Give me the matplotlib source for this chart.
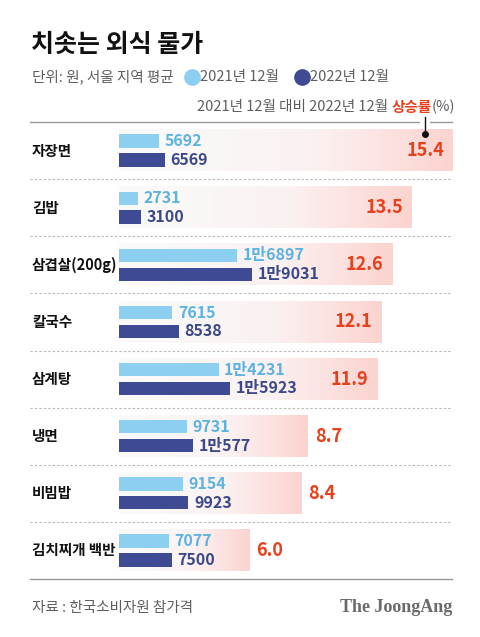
import numpy as np
import matplotlib
matplotlib.use('Agg')
from matplotlib import pyplot as plt
from matplotlib.lines import Line2D
from matplotlib.colors import LinearSegmentedColormap

plt.rcParams['font.family'] = ['Noto Sans CJK KR', 'DejaVu Sans']

# data
items = ['자장면', '김밥', '삼겹살(200g)', '칼국수', '삼계탕', '냉면', '비빔밥', '김치찌개 백반']
price_2021 = [5692, 2731, 16897, 7615, 14231, 9731, 9154, 7077]
price_2022 = [6569, 3100, 19031, 8538, 15923, 10577, 9923, 7500]
rate = [15.4, 13.5, 12.6, 12.1, 11.9, 8.7, 8.4, 6.0]

LIGHT = '#8dcff1'
DARK = '#3e4b94'
LIGHT_TXT = '#5cb3e0'
DARK_TXT = '#3b4889'
RED = '#e8401c'
GRAY = '#5e5e5e'

W, H = 480, 637
def fx(px):
    return px / W
def fy(py):
    return 1 - py / H

def won(v):
    if v >= 10000:
        return '%d만%d' % (v // 10000, v % 10000)
    return str(v)

fig = plt.figure(figsize=(4.8, 6.37), dpi=100)
fig.patch.set_facecolor('white')

# header texts
fig.text(fx(31), fy(45), '치솟는 외식 물가', fontsize=18, fontweight='bold',
         color='#111111', va='center', ha='left')
fig.text(fx(32), fy(77), '단위: 원, 서울 지역 평균', fontsize=10.5, color=GRAY,
         va='center', ha='left')
fig.add_artist(Line2D([fx(192)], [fy(77)], marker='o', markersize=11,
                      color=LIGHT, linestyle='none', transform=fig.transFigure))
fig.text(fx(200), fy(77), '2021년 12월', fontsize=10.5, color=GRAY, va='center', ha='left')
fig.add_artist(Line2D([fx(302)], [fy(77)], marker='o', markersize=11,
                      color=DARK, linestyle='none', transform=fig.transFigure))
fig.text(fx(310), fy(77), '2022년 12월', fontsize=10.5, color=GRAY, va='center', ha='left')

# right header with red part, laid out right to left
renderer = fig.canvas.get_renderer()
x_right = fx(455)
parts = [('(%)', GRAY, 'normal'), ('상승률', RED, 'bold'),
         ('2021년 12월 대비 2022년 12월 ', GRAY, 'normal')]
for s, c, w in parts:
    t = fig.text(x_right, fy(107), s, fontsize=10.5, color=c, fontweight=w,
                 va='center', ha='right')
    bb = t.get_window_extent(renderer)
    x_right -= bb.width / fig.bbox.width

# main axes: x in won, twin x in percent
ax = fig.add_axes([fx(119), fy(579), fx(453) - fx(119), fy(122) - fy(579)])
ax2 = ax.twiny()
ax.set_zorder(ax2.get_zorder() + 1)
ax.patch.set_visible(False)

y = np.arange(len(items))
px_per_won = 0.007
px_per_pct = 21.7
ax.set_xlim(0, 334 / px_per_won)
ax2.set_xlim(0, 334 / px_per_pct)

# gradient boxes for the rate
cmap = LinearSegmentedColormap.from_list('pinkfade', ['#fafafa', '#fbf1f1', '#fcd3cf'])
grad = np.linspace(0, 1, 256).reshape(1, -1) ** 1.3
box_h = 0.72
for i, r in enumerate(rate):
    ax2.imshow(grad, extent=(0, r, i + box_h / 2, i - box_h / 2), cmap=cmap,
               aspect='auto', interpolation='bicubic')
    if r >= 10:
        ax2.annotate('%.1f' % r, (r, i), xytext=(-20, 0), textcoords='offset points',
                     ha='center', va='center', fontsize=13, fontweight='bold', color=RED)
    else:
        ax2.annotate('%.1f' % r, (r, i), xytext=(5, 0), textcoords='offset points',
                     ha='left', va='center', fontsize=13, fontweight='bold', color=RED)

# leader line for the first box
lead_x = rate[0] - 20 * 100 / 72 / px_per_pct
ax2.plot([lead_x, lead_x], [-0.59, -0.29], color='#111111', lw=1, clip_on=False)
ax2.plot([lead_x], [-0.29], marker='o', color='#111111', markersize=4, clip_on=False)

# bars
off = 0.165
bh = 0.235
ax.barh(y - off, price_2021, height=bh, color=LIGHT, left=0)
ax.barh(y + off, price_2022, height=bh, color=DARK, left=0)
for i in range(len(items)):
    ax.annotate(won(price_2021[i]), (price_2021[i], i - off), xytext=(4, 0),
                textcoords='offset points', ha='left', va='center',
                fontsize=11.5, fontweight='bold', color=LIGHT_TXT)
    ax.annotate(won(price_2022[i]), (price_2022[i], i + off), xytext=(4, 0),
                textcoords='offset points', ha='left', va='center',
                fontsize=11.5, fontweight='bold', color=DARK_TXT)
    ax.text((32 - 119) / 334, i, items[i], transform=ax.get_yaxis_transform(),
            ha='left', va='center', fontsize=10.5, fontweight='bold', color='#111111')

ax.set_ylim(len(items) - 0.5, -0.5)
ax2.set_ylim(len(items) - 0.5, -0.5)

# separators
x0 = (30 - 119) / 334
x1 = (452 - 119) / 334
tr = ax.get_yaxis_transform()
gap0 = (lead_x * px_per_pct - 6) / 334
gap1 = (lead_x * px_per_pct + 5) / 334
ax.plot([x0, gap0], [-0.5, -0.5], transform=tr, color='#999999', lw=1, clip_on=False)
ax.plot([gap1, x1], [-0.5, -0.5], transform=tr, color='#999999', lw=1, clip_on=False)
for k in range(1, len(items)):
    ax.plot([x0, x1], [k - 0.5, k - 0.5], transform=tr, color='#b5b5b5', lw=0.8,
            linestyle=(0, (2, 2)), clip_on=False)
ax.plot([x0, x1], [len(items) - 0.5] * 2, transform=tr, color='#999999', lw=1, clip_on=False)

for a in (ax, ax2):
    a.axis('off')

# footer
fig.text(fx(32), fy(608), '자료 : 한국소비자원 참가격', fontsize=10.5, color=GRAY,
         va='center', ha='left')
fig.text(fx(452), fy(608), 'The JoongAng', fontsize=13, fontweight='bold',
         family='Liberation Serif', color='#6a6a6a', va='center', ha='right')

plt.savefig('out.png', dpi=100)
